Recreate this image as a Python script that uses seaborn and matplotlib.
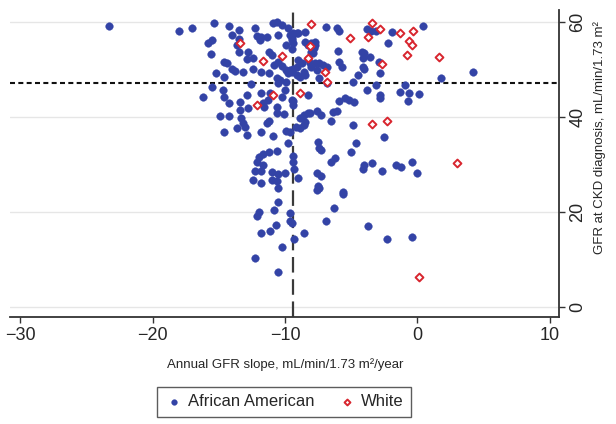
import matplotlib
matplotlib.use("Agg")
import matplotlib.pyplot as plt
import seaborn as sns
import pandas as pd

sns.set_style("white")
plt.rcParams["font.family"] = ["Liberation Sans", "DejaVu Sans"]

# ---------------------------------------------------------------------------
# Data
# ---------------------------------------------------------------------------
aa_slope = [
    -23.3, -18.0, -17.0, -15.4, -15.8, -15.5, -15.6, -14.2, -14.0, -13.5,
    -13.5, -13.6, -13.5, -12.8, -12.3, -12.1, -11.8, -11.4, -11.9, -10.9,
    -10.6, -10.5, -10.2, -9.8, -9.6, -9.5, -9.9, -11.2, -11.0, -12.9,
    -12.4, -14.6, -14.4, -15.2, -14.6, -14.0, -13.8, -13.2, -12.4, -11.8,
    -11.2, -10.8, -10.5, -10.2, -10.6, -9.9, -9.6, -9.8, -10.5, -10.4,
    -12.6, -9.9, -15.5, -14.7, -14.6, -16.2, -11.8, -11.1, -13.4, -12.9,
    -14.2, -9.5, -11.7, -9.5, -11.3, -10.6, -12.8, -13.4, -11.6, -10.2,
    -10.0, -14.9, -14.2, -13.3, -13.2, -13.0, -13.6, -14.6, -12.9, -11.8,
    -11.4, -11.2, -10.6, -10.1, -10.9, -9.9, -9.6, -9.8, -9.4, -11.2,
    -10.6, -11.7, -12.0, -12.1, -11.7, -12.3, -11.8, -12.4, -11.8, -11.0,
    -10.5, -10.0, -11.0, -10.6, -10.5, -9.4, -9.4, -9.3, -9.0, -10.5,
    -12.0, -12.1, -10.8, -9.6, -9.6, -9.5, -10.7, -11.1, -11.8, -9.3,
    -8.6, -10.2, -12.3, -10.5, -6.3, -6.9, -7.6, -5.6, -5.6, -3.7,
    -2.3, -0.4, -6.9, -6.1, -5.9, -3.8, -3.5, -3.1, -1.9, -2.2,
    -9.4, -9.1, -9.0, -8.5, -9.5, -9.4, -8.5, -8.3, -8.0, -7.7,
    -7.7, -7.8, -8.0, -7.9, -6.0, -5.9, -5.7, -4.2, -4.0, -4.1,
    -3.6, -2.9, -4.1, -4.0, -9.0, -8.7, -9.1, -9.4, -9.5, -8.3,
    -8.1, -8.0, -7.7, -7.6, -7.4, -7.1, -6.8, -8.6, -8.5, -8.9,
    -9.1, -7.4, -6.8, -4.9, -4.5, -2.8, -3.8, -3.1, -2.8, -2.8,
    -0.9, -1.3, -0.6, 0.1, -0.7, -5.9, -5.5, -5.2, -4.8, -9.4,
    -8.3, -8.6, -8.9, -8.3, -8.1, -7.6, -7.3, -6.4, -6.1, -6.5,
    -8.5, -8.6, -4.9, -2.5, -7.5, -7.4, -7.3, -4.6, -5.0, -6.2,
    -6.5, -4.0, -4.1, -3.4, -2.7, -1.6, -1.2, -0.4, 0.0, -7.6,
    -7.3, -7.5, -7.4, -9.2, -8.9, 0.4, 4.2, 1.8,
]
aa_gfr = [
    59.2, 58.1, 58.7, 59.8, 55.6, 56.2, 53.3, 59.2, 57.3, 58.3,
    56.4, 55.2, 53.7, 53.7, 58.7, 57.1, 56.8, 56.8, 56.2, 59.8,
    59.9, 57.3, 59.4, 58.7, 57.3, 56.2, 55.2, 53.7, 53.1, 52.2,
    52.4, 51.6, 51.4, 49.3, 48.4, 50.1, 49.7, 49.5, 50.1, 49.5,
    49.3, 50.9, 51.6, 50.7, 48.2, 49.9, 49.9, 49.3, 47.2, 47.8,
    46.9, 47.4, 46.3, 45.7, 44.2, 44.2, 45.1, 45.1, 43.2, 44.6,
    42.9, 43.6, 42.9, 54.3, 43.6, 42.1, 41.9, 41.5, 42.1, 44.2,
    45.7, 40.2, 40.2, 39.8, 38.7, 37.9, 37.7, 36.8, 36.2, 36.8,
    38.7, 39.2, 40.8, 40.6, 36.0, 37.1, 36.8, 34.5, 42.5, 32.6,
    32.8, 32.2, 31.6, 30.5, 29.9, 28.6, 28.6, 26.7, 26.1, 28.4,
    28.0, 28.2, 26.7, 26.5, 25.1, 31.8, 30.5, 29.1, 27.2, 22.1,
    20.0, 19.2, 20.4, 19.8, 18.1, 17.7, 17.3, 16.0, 15.6, 14.3,
    15.6, 12.6, 10.3, 7.4, 20.8, 18.1, 24.6, 24.2, 23.8, 17.1,
    14.3, 14.7, 58.9, 58.7, 58.1, 58.5, 58.1, 58.1, 57.9, 55.6,
    57.7, 57.7, 57.7, 57.9, 56.6, 55.6, 55.8, 55.2, 55.6, 55.8,
    55.2, 54.5, 53.7, 53.5, 53.9, 51.6, 50.5, 53.7, 53.5, 52.4,
    52.6, 51.6, 50.5, 50.1, 52.0, 51.4, 50.5, 50.1, 49.5, 52.2,
    51.4, 50.5, 51.4, 49.9, 51.4, 50.9, 50.5, 49.5, 48.8, 48.4,
    48.8, 48.2, 47.2, 47.4, 48.8, 49.3, 45.7, 46.7, 44.6, 44.0,
    46.7, 45.3, 45.1, 44.8, 43.4, 43.4, 44.0, 43.6, 43.2, 43.4,
    44.6, 40.4, 39.8, 40.8, 40.8, 41.3, 40.4, 41.1, 41.3, 39.2,
    38.9, 38.3, 38.3, 35.8, 34.7, 33.5, 33.1, 34.5, 32.6, 31.4,
    30.5, 29.9, 29.1, 30.3, 28.6, 29.9, 29.5, 30.5, 28.2, 28.2,
    27.6, 25.5, 25.1, 37.9, 37.7, 59.2, 49.5, 48.2,
]

white_slope = [
    -8.0, -3.4, -2.8, -5.1, -3.7, -1.3, -0.3, -0.6, -0.4, -0.8,
    1.6, -2.7, -7.0, -6.8, -8.9, -11.7, -10.2, -13.4, -10.9, -12.1,
    -3.4, -2.3, 3.0, 0.1, -8.3, -8.1,
]
white_gfr = [
    59.6, 59.8, 58.5, 56.6, 56.8, 57.7, 58.1, 56.0, 55.2, 53.1,
    52.6, 51.2, 49.5, 47.4, 45.1, 51.8, 52.8, 55.6, 44.6, 42.5,
    38.5, 39.2, 30.3, 6.3, 52.4, 55.0,
]

median_slope = -9.4
median_gfr = 47.2

x_ticks = [-30, -20, -10, 0, 10]
y_ticks = [0, 20, 40, 60]

blue = "#3343a6"
red = "#d8262f"

aa = pd.DataFrame({"slope": aa_slope, "gfr": aa_gfr})
wh = pd.DataFrame({"slope": white_slope, "gfr": white_gfr})

# ---------------------------------------------------------------------------
# Plot
# ---------------------------------------------------------------------------
fig = plt.figure(figsize=(6.16, 4.24), dpi=100)
ax = fig.add_axes([0.016, 0.2524, 0.8913, 0.7241])

ax.grid(axis="y", color="#e6e6e6", linewidth=1.0)
ax.set_axisbelow(True)

sns.scatterplot(data=aa, x="slope", y="gfr", ax=ax, color=blue, marker="o",
                s=30, edgecolor=blue, linewidth=0.3, label="African American", zorder=3)
sns.scatterplot(data=wh, x="slope", y="gfr", ax=ax, color="white", marker="D",
                s=16, edgecolor=red, linewidth=1.4, label="White", zorder=4)

ax.axvline(median_slope, color="#3a3a3a", linewidth=1.6, dashes=(7, 3), zorder=2)
ax.axhline(median_gfr, color="#111111", linewidth=1.5, dashes=(2.4, 1.6), zorder=2)

ax.set_xlim(-30.8, 10.7)
ax.set_ylim(-2.1, 62.5)
ax.set_xticks(x_ticks)
ax.set_yticks(y_ticks)
ax.set_xticklabels(["\u221230", "\u221220", "\u221210", "0", "10"])

ax.yaxis.tick_right()
ax.yaxis.set_label_position("right")
for side in ["left", "top"]:
    ax.spines[side].set_visible(False)
for side in ["right", "bottom"]:
    ax.spines[side].set_color("#333333")
    ax.spines[side].set_linewidth(1.3)

ax.tick_params(axis="x", direction="out", length=4.5, width=1.0, color="#333333",
               labelsize=13, pad=3, bottom=True)
ax.tick_params(axis="y", direction="out", length=4.5, width=1.0, color="#333333",
               labelsize=13, pad=3, right=True, labelrotation=90)
for lab in ax.get_yticklabels():
    lab.set_va("center")

ax.set_xlabel("Annual GFR slope, mL/min/1.73 m\u00b2/year", fontsize=9.5)
ax.xaxis.label.set_va("center")
ax.xaxis.set_label_coords(0.501, -0.156)
ax.set_ylabel("GFR at CKD diagnosis, mL/min/1.73 m\u00b2", fontsize=9.5, rotation=90)
ax.yaxis.label.set_va("center")
ax.yaxis.set_label_coords(1.075, 0.586)

ax.get_legend().remove()
handles, labels = ax.get_legend_handles_labels()
leg = fig.legend(handles, labels, loc="center", bbox_to_anchor=(0.461, 0.052),
                 ncol=2, fontsize=12, frameon=True, fancybox=False, edgecolor="#333333",
                 markerscale=0.75, handletextpad=0.3, columnspacing=1.4,
                 borderpad=0.45, handlelength=1.1)
leg.get_frame().set_linewidth(1.0)

fig.savefig("out.png", dpi=100)
